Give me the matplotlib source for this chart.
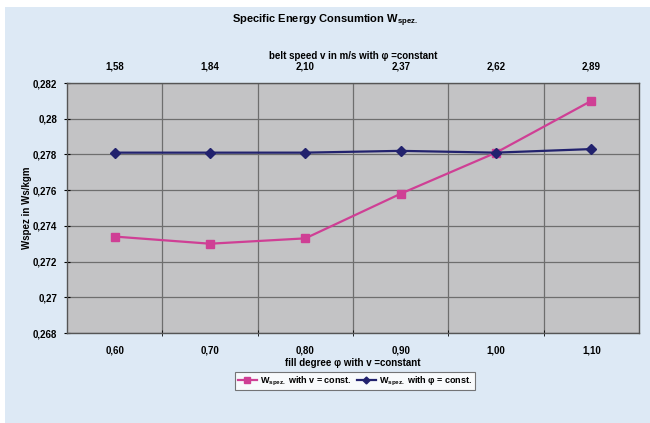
import numpy as np
import matplotlib
matplotlib.use("Agg")
import matplotlib.pyplot as plt
from matplotlib.patches import Rectangle
from matplotlib.ticker import FuncFormatter

# =========================
# data
# =========================
fill_degree = ["0,60", "0,70", "0,80", "0,90", "1,00", "1,10"]
belt_speed = ["1,58", "1,84", "2,10", "2,37", "2,62", "2,89"]

w_v_const = [0.2734, 0.2730, 0.2733, 0.2758, 0.2781, 0.2810]
w_phi_const = [0.2781, 0.2781, 0.2781, 0.2782, 0.2781, 0.2783]

y_ticks = [0.268, 0.270, 0.272, 0.274, 0.276, 0.278, 0.280, 0.282]

# =========================
# style
# =========================
plt.rcParams["font.family"] = ["Liberation Sans", "DejaVu Sans"]
plt.rcParams["font.weight"] = "bold"
plt.rcParams["mathtext.fontset"] = "custom"
plt.rcParams["mathtext.rm"] = "Liberation Sans:bold"
plt.rcParams["mathtext.it"] = "Liberation Sans:bold"

BG = "#dde9f5"
PLOT_BG = "#c3c3c5"
GRID = "#6e6e6e"
PINK = "#cf3f95"
NAVY = "#22226e"

fig = plt.figure(figsize=(6.5, 4.23), dpi=100, facecolor="white")
fig.patches.append(Rectangle((5 / 650, 0), 1, 1 - 7 / 423,
                             transform=fig.transFigure,
                             facecolor=BG, edgecolor="none", zorder=-1))

ax = fig.add_axes([67 / 650, 1 - 333 / 423, 572 / 650, 250 / 423])
ax.set_facecolor(PLOT_BG)

x = np.arange(len(fill_degree))

ax.plot(x, w_v_const, color=PINK, marker="s", markersize=6,
        linewidth=1.6, label=r"W$_{\mathrm{spez.}}$ with v = const.",
        zorder=3)
ax.plot(x, w_phi_const, color=NAVY, marker="D", markersize=5,
        linewidth=1.6, label="W$_{\\mathrm{spez.}}$ with \u03c6 = const.",
        zorder=4)

ax.set_xlim(-0.5, len(x) - 0.5)
ax.set_ylim(0.268, 0.282)

ax.set_yticks(y_ticks)
ax.yaxis.set_major_formatter(
    FuncFormatter(lambda v, p: f"{v:.3f}".rstrip("0").replace(".", ","))
)

ax.set_xticks(x)
ax.set_xticklabels(fill_degree)
ax.set_xticks(x[:-1] + 0.5, minor=True)
ax.tick_params(axis="x", which="major", length=0, pad=9, labelsize=7)
ax.tick_params(axis="x", which="minor", length=4, direction="inout")
ax.tick_params(axis="y", length=4, direction="inout", labelsize=7, pad=5)

ax.grid(True, axis="y", color=GRID, linewidth=0.9)
ax.grid(True, axis="x", which="minor", color=GRID, linewidth=0.9)
ax.set_axisbelow(True)

for s in ax.spines.values():
    s.set_color("#555555")
    s.set_linewidth(1.0)

ax.set_xlabel("fill degree \u03c6 with v =constant", fontsize=7,
              fontweight="bold", labelpad=2)
ax.set_ylabel("Wspez in Ws/kgm", fontsize=7, fontweight="bold", labelpad=1)

# top axis: belt speed
top = ax.twiny()
top.set_xlim(ax.get_xlim())
top.set_xticks(x)
top.set_xticklabels(belt_speed)
top.tick_params(axis="x", length=0, pad=8, labelsize=7)
top.set_xlabel("belt speed v in m/s with \u03c6 =constant", fontsize=7,
               fontweight="bold", labelpad=2)
for s in top.spines.values():
    s.set_visible(False)

fig.text(0.5, 1 - 21 / 423, r"Specific Energy Consumtion W$_{\mathrm{spez.}}$",
         ha="center", va="center", fontsize=8, fontweight="bold")

leg = fig.legend(loc="center", bbox_to_anchor=(355 / 650, 1 - 381 / 423),
                 ncol=2, fontsize=6.5, frameon=True, fancybox=False,
                 handlelength=2.2, handletextpad=0.3, columnspacing=0.5,
                 borderpad=0.3, markerscale=0.7)
leg.get_frame().set_edgecolor("#555555")
leg.get_frame().set_linewidth(0.8)
leg.get_frame().set_facecolor("white")

fig.savefig("out.png", dpi=100, facecolor=fig.get_facecolor())
